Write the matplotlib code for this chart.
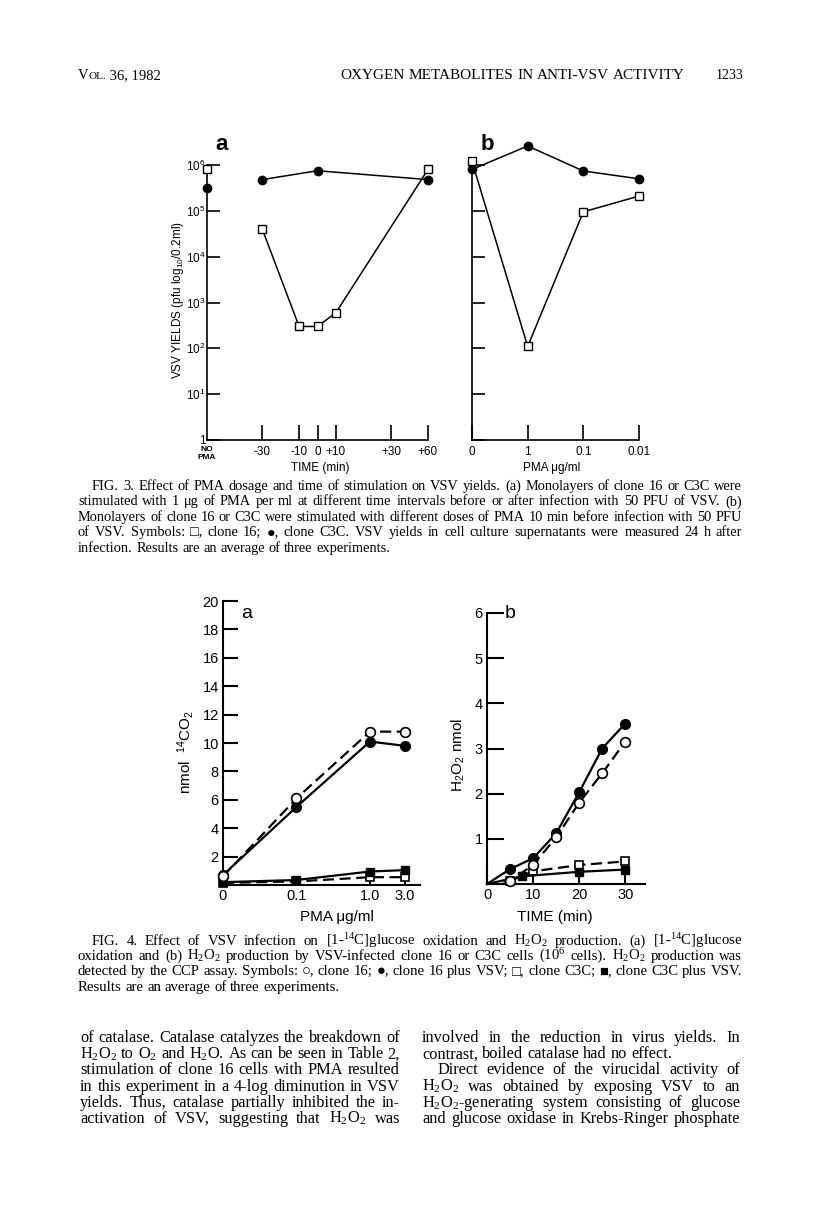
import numpy as np
import matplotlib
matplotlib.use('Agg')
import matplotlib.pyplot as plt

SANS = 'Liberation Sans'
SERIF = ['Liberation Serif', 'DejaVu Sans']

# ---------------- data ----------------
# Fig 3a : VSV yield vs time of PMA addition (pfu/0.2 ml)
time_labels = ['NO\nPMA', '-30', '-10', '0', '+10', '+30', '+60']
time_slots = [0, 3, 5, 6, 7, 10, 12]          # uneven layout of the time axis
c3c_time_a = ['-30', '0', '+60']
c3c_yield_a = [4.8e5, 7.5e5, 4.8e5]
c3c_nopma_a = 3.2e5
cl16_time_a = ['-30', '-10', '0', '+10', '+60']
cl16_yield_a = [4e4, 3e2, 3e2, 6e2, 8e5]
cl16_nopma_a = 8e5

# Fig 3b : VSV yield vs PMA dose
dose_labels = ['0', '1', '0.1', '0.01']
c3c_yield_b = [8e5, 2.6e6, 7.4e5, 5e5]
cl16_yield_b = [1.2e6, 1.1e2, 9.5e4, 2.1e5]

yield_ticks = [1, 1e1, 1e2, 1e3, 1e4, 1e5, 1e6]
yield_labels = ['1'] + [r'10$\mathregular{^{%d}}$' % k for k in range(1, 7)]

# Fig 4a : 14CO2 (nmol) vs PMA (ug/ml)
pma_dose = [0, 0.1, 1.0, 3.0]
pma_labels = ['0', '0.1', '1.0', '3.0']
ZERO_AT = 0.01                                # where "0" sits on the log axis
co2_cl16 = [0.6, 6.1, 10.8, 10.8]
co2_cl16_vsv = [0.7, 5.5, 10.1, 9.8]
co2_c3c = [0.15, 0.25, 0.55, 0.55]
co2_c3c_vsv = [0.2, 0.35, 0.95, 1.05]

# Fig 4b : H2O2 (nmol) vs time (min)
h2o2_time = [0, 5, 10, 15, 20, 25, 30]
h2o2_cl16_vsv = [0, 0.33, 0.57, 1.12, 2.03, 3.0, 3.55]
h2o2_cl16 = [0, 0.07, 0.42, 1.03, 1.8, 2.45, 3.15]
c3c_time_b = [5, 10, 20, 30]
h2o2_c3c = [0.07, 0.28, 0.42, 0.5]
c3c_vsv_time_b = [0, 7.5, 20, 30]
h2o2_c3c_vsv = [0, 0.17, 0.27, 0.32]

# ---------------- text ----------------
header_title = 'OXYGEN METABOLITES IN ANTI-VSV ACTIVITY'
page_no = '1233'

H2O2 = r'H$\mathregular{_2}$O$\mathregular{_2}$'
cap3 = [
    'FIG. 3. Effect of PMA dosage and time of stimulation on VSV yields. (a) Monolayers of clone 16 or C3C were',
    'stimulated with 1 \u03bcg of PMA per ml at different time intervals before or after infection with 50 PFU of VSV. (b)',
    'Monolayers of clone 16 or C3C were stimulated with different doses of PMA 10 min before infection with 50 PFU',
    'of VSV. Symbols: \u25a1, clone 16; \u25cf, clone C3C. VSV yields in cell culture supernatants were measured 24 h after',
    'infection. Results are an average of three experiments.',
]
cap4 = [
    'FIG. 4. Effect of VSV infection on [1-$\\mathregular{^{14}}$C]glucose oxidation and ' + H2O2 +
    ' production. (a) [1-$\\mathregular{^{14}}$C]glucose',
    'oxidation and (b) ' + H2O2 + ' production by VSV-infected clone 16 or C3C cells (10$\\mathregular{^6}$ cells). ' +
    H2O2 + ' production was',
    'detected by the CCP assay. Symbols: \u25cb, clone 16; \u25cf, clone 16 plus VSV; \u25a1, clone C3C; \u25a0, clone C3C plus VSV.',
    'Results are an average of three experiments.',
]
body_left = [
    'of catalase. Catalase catalyzes the breakdown of',
    H2O2 + ' to O$\\mathregular{_2}$ and H$\\mathregular{_2}$O. As can be seen in Table 2,',
    'stimulation of clone 16 cells with PMA resulted',
    'in this experiment in a 4-log diminution in VSV',
    'yields. Thus, catalase partially inhibited the in-',
    'activation of VSV, suggesting that ' + H2O2 + ' was',
]
body_right = [
    'involved in the reduction in virus yields. In',
    'contrast, boiled catalase had no effect.',
    'Direct evidence of the virucidal activity of',
    H2O2 + ' was obtained by exposing VSV to an',
    H2O2 + '-generating system consisting of glucose',
    'and glucose oxidase in Krebs-Ringer phosphate',
]

# ---------------- figure ----------------
W, H = 816, 1208
fig = plt.figure(figsize=(W / 100, H / 100), dpi=100)
fig.patch.set_facecolor('white')
renderer = fig.canvas.get_renderer()


def box(x0, y0, x1, y1):
    return [x0 / W, 1 - y1 / H, (x1 - x0) / W, (y1 - y0) / H]


def ftext(x, y, s, **kw):
    return fig.text(x / W, 1 - y / H, s, **kw)


def natural_width(s, size):
    words = s.split(' ')
    tot = 0
    for w in words:
        t = ftext(0, 0, w, fontsize=size, family=SERIF)
        tot += t.get_window_extent(renderer).width
        t.remove()
    return tot + 0.25 * size * 100 / 72 * (len(words) - 1)


def fit_size(lines, widths, size0, smax):
    # largest size for which every line still fits its measure
    s = smax
    for line, wd in zip(lines, widths):
        s = min(s, size0 * wd / natural_width(line, size0))
    return s


def put_line(s, x0, x1, yb, size, justify=True):
    words = s.split(' ')
    ts = [ftext(0, yb, w, fontsize=size, family=SERIF, va='baseline', ha='left') for w in words]
    ws = [t.get_window_extent(renderer).width for t in ts]
    if justify and len(words) > 1:
        gap = (x1 - x0 - sum(ws)) / (len(words) - 1)
    else:
        gap = 0.25 * size * 100 / 72
    x = x0
    for t, w in zip(ts, ws):
        t.set_x(x / W)
        x += w + gap


def put_runs(runs, x0, yb):
    x = x0
    for s, size in runs:
        t = ftext(x, yb, s, fontsize=size, family=SERIF, va='baseline', ha='left')
        x += t.get_window_extent(renderer).width


def style(ax, lw=1.3):
    for s in ['top', 'right']:
        ax.spines[s].set_visible(False)
    for s in ['left', 'bottom']:
        ax.spines[s].set_linewidth(lw)
    ax.tick_params(direction='in', width=lw, colors='black')
    ax.set_facecolor('none')


# header
put_runs([('V', 10.5), ('OL.', 8), (' 36, 1982', 10.5)], 78, 79)
hs = fit_size([header_title], [345], 10, 11)
put_line(header_title, 340, 685, 79, hs)
ftext(716, 79, page_no, fontsize=10, family=SERIF, va='baseline')

# ----- Fig 3a -----
slot = dict(zip(time_labels, time_slots))
ax = fig.add_axes(box(207, 165, 428, 440))
style(ax, 1.2)
ax.set_yscale('log')
ax.set_xlim(0, 12)
ax.set_ylim(1, 1e6)
ax.set_yticks(yield_ticks, yield_labels)
ax.yaxis.set_minor_locator(matplotlib.ticker.NullLocator())
ax.set_xticks(time_slots, time_labels)
ax.tick_params(axis='y', length=9, pad=1, labelsize=8.5)
ax.tick_params(axis='x', length=11, pad=4, labelsize=8.5)
for lab in ax.get_yticklabels() + ax.get_xticklabels():
    lab.set_family(SANS)
ax.xaxis.get_major_ticks()[0].tick1line.set_visible(False)
ax.get_xticklabels()[0].set_fontsize(6)
ax.get_xticklabels()[0].set_fontweight('bold')
ax.plot([slot[t] for t in c3c_time_a], c3c_yield_a, '-o', color='black', lw=1.1, ms=6, clip_on=False, zorder=3)
ax.plot([slot['NO\nPMA']], [c3c_nopma_a], 'o', color='black', ms=6, clip_on=False, zorder=3)
ax.plot([slot[t] for t in cl16_time_a], cl16_yield_a, '-s', color='black', mfc='white', mew=1, lw=1.1, ms=6,
        clip_on=False, zorder=4)
ax.plot([slot['NO\nPMA']], [cl16_nopma_a], 's', color='black', mfc='white', mew=1, ms=6, clip_on=False, zorder=4)

ftext(222, 145, 'a', fontsize=16, fontweight='bold', family=SANS, ha='center', va='center')
ftext(178, 300, r'VSV YIELDS (pfu log$\mathregular{_{10}}$/0.2ml)', fontsize=8.5, family=SANS, rotation=90,
      ha='center', va='center')
ftext(320, 468, 'TIME (min)', fontsize=8.5, family=SANS, ha='center', va='center')

# ----- Fig 3b -----
ax = fig.add_axes(box(472, 165, 639, 440))
style(ax, 1.2)
ax.set_yscale('log')
ax.set_xlim(0, len(dose_labels) - 1)
ax.set_ylim(1, 1e6)
ax.set_yticks(yield_ticks, [''] * len(yield_ticks))
ax.yaxis.set_minor_locator(matplotlib.ticker.NullLocator())
ax.set_xticks(range(len(dose_labels)), dose_labels)
ax.tick_params(axis='y', length=9)
ax.tick_params(axis='x', length=11, pad=4, labelsize=8.5)
for lab in ax.get_xticklabels():
    lab.set_family(SANS)
xs = range(len(dose_labels))
ax.plot(xs, c3c_yield_b, '-o', color='black', lw=1.1, ms=6, clip_on=False, zorder=3)
ax.plot(xs, cl16_yield_b, '-s', color='black', mfc='white', mew=1, lw=1.1, ms=6, clip_on=False, zorder=4)

ftext(487, 145, 'b', fontsize=16, fontweight='bold', family=SANS, ha='center', va='center')
ftext(552, 468, 'PMA \u03bcg/ml', fontsize=8.5, family=SANS, ha='center', va='center')

# caption fig 3
cs = fit_size([cap3[0]] + cap3[1:4], [650] + [664] * 3, 9, 11)
for i, line in enumerate(cap3):
    last = i == len(cap3) - 1
    put_line(line, 92 if i == 0 else 78, 742, 490 + 15.4 * i, cs, justify=not last)

# ----- Fig 4a -----
ax = fig.add_axes(box(223, 601, 420, 885))
style(ax, 1.5)
ax.set_xscale('log')
ax.set_xlim(ZERO_AT, 4.8)
ax.set_ylim(0, 20)
ax.set_yticks(range(0, 21, 2), [''] + [str(v) for v in range(2, 21, 2)])
ax.xaxis.set_minor_locator(matplotlib.ticker.NullLocator())
xpos = [ZERO_AT if d == 0 else d for d in pma_dose]
ax.set_xticks(xpos, pma_labels)
ax.tick_params(axis='y', length=11, pad=3, labelsize=10.5)
ax.tick_params(axis='x', length=6, pad=3, labelsize=10.5)
for lab in ax.get_yticklabels() + ax.get_xticklabels():
    lab.set_family(SANS)
dash = (0, (5, 2.5))
ax.plot(xpos, co2_c3c, ls=dash, marker='s', color='black', mfc='white', mew=1.2, lw=1.6, ms=6, clip_on=False,
        zorder=3)
ax.plot(xpos, co2_c3c_vsv, '-s', color='black', lw=1.6, ms=6, clip_on=False, zorder=3)
ax.plot(xpos, co2_cl16_vsv, '-o', color='black', lw=1.6, ms=7, clip_on=False, zorder=4)
ax.plot(xpos, co2_cl16, ls=dash, marker='o', color='black', mfc='white', mew=1.2, lw=1.6, ms=7, clip_on=False,
        zorder=5)

ftext(247, 613, 'a', fontsize=14, family=SANS, ha='center', va='center')
ftext(185, 752, r'nmol  $\mathregular{^{14}}$CO$\mathregular{_2}$', fontsize=11, family=SANS, rotation=90,
      ha='center', va='center')
ftext(337, 917, 'PMA \u03bcg/ml', fontsize=11, family=SANS, ha='center', va='center')

# ----- Fig 4b -----
ax = fig.add_axes(box(487, 613, 645, 884))
style(ax, 1.5)
ax.set_xlim(0, 34.3)
ax.set_ylim(0, 6)
ax.set_yticks(range(0, 7), [''] + [str(v) for v in range(1, 7)])
ax.set_xticks([0, 10, 20, 30], ['0', '10', '20', '30'])
ax.tick_params(axis='y', length=12, pad=3, labelsize=10.5)
ax.tick_params(axis='x', length=12, pad=3, labelsize=10.5)
for lab in ax.get_yticklabels() + ax.get_xticklabels():
    lab.set_family(SANS)
ax.plot(c3c_time_b, h2o2_c3c, ls=dash, marker='s', color='black', mfc='white', mew=1.2, lw=1.6, ms=6,
        clip_on=False, zorder=3)
ax.plot(c3c_vsv_time_b, h2o2_c3c_vsv, '-s', color='black', lw=1.6, ms=6, markevery=range(1, len(c3c_vsv_time_b)),
        clip_on=False, zorder=3)
ax.plot(h2o2_time, h2o2_cl16_vsv, '-o', color='black', lw=1.6, ms=7, markevery=range(1, len(h2o2_time)),
        clip_on=False, zorder=4)
ax.plot(h2o2_time, h2o2_cl16, ls=dash, marker='o', color='black', mfc='white', mew=1.2, lw=1.6, ms=7,
        markevery=range(1, len(h2o2_time)), clip_on=False, zorder=5)

ftext(510, 613, 'b', fontsize=14, family=SANS, ha='center', va='center')
ftext(458, 755, H2O2 + ' nmol', fontsize=11, family=SANS, rotation=90, ha='center', va='center')
ftext(555, 917, 'TIME (min)', fontsize=11, family=SANS, ha='center', va='center')

# caption fig 4
cs4 = fit_size(cap4[:3], [650, 664, 664], 9, 11)
for i, line in enumerate(cap4):
    last = i == len(cap4) - 1
    put_line(line, 92 if i == 0 else 78, 742, 945 + 15.2 * i, cs4, justify=not last)

# body text, two columns
bs = fit_size(body_left + [body_right[0]] + body_right[2:], [320] * 6 + [318, 303, 318, 318, 318], 10, 12.5)
for i, line in enumerate(body_left):
    put_line(line, 80, 400, 1042 + 16.2 * i, bs)
for i, line in enumerate(body_right):
    x0 = 437 if i == 2 else 422
    put_line(line, x0, 740, 1042 + 16.2 * i, bs, justify=(i != 1))

fig.savefig('out.png', dpi=100, facecolor='white')
